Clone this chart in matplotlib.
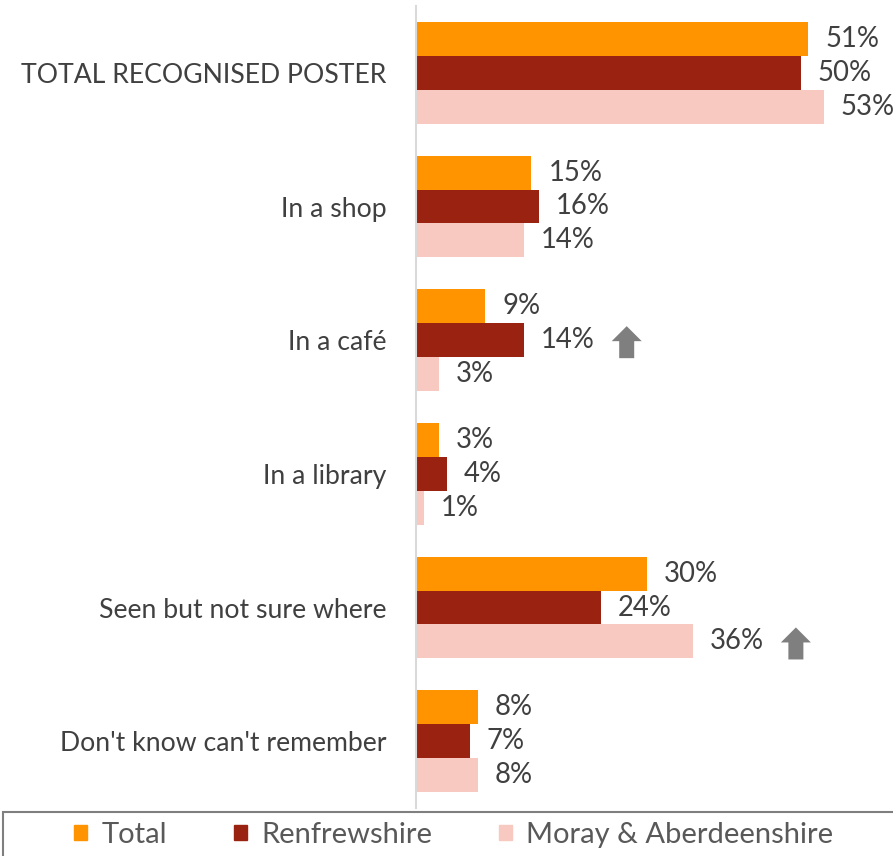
import matplotlib
matplotlib.use('Agg')
import matplotlib.pyplot as plt
from matplotlib.patches import Rectangle, Polygon
import numpy as np

plt.rcParams['font.family'] = ['Lato', 'DejaVu Sans']

CATEGORIES = ['TOTAL RECOGNISED POSTER', 'In a shop', 'In a caf\u00e9', 'In a library',
              'Seen but not sure where', "Don't know can't remember"]
SERIES = ['Total', 'Renfrewshire', 'Moray & Aberdeenshire']
VALUES = {
    'Total': [51, 15, 9, 3, 30, 8],
    'Renfrewshire': [50, 16, 14, 4, 24, 7],
    'Moray & Aberdeenshire': [53, 14, 3, 1, 36, 8],
}
COLORS = ['#FF9300', '#9A2210', '#F8C9C0']
# significant increase markers: (category index, series index)
UP_ARROWS = [(2, 1), (4, 2)]

TEXT = '#404040'
W, H = 893, 856
FIG = plt.figure(figsize=(W / 100, H / 100), dpi=100)
AX = FIG.add_axes([416 / W, 1 - 808 / H, 1 - 416 / W, (808 - 6) / H])

BAR_H = 0.254
Y = np.arange(len(CATEGORIES))
for i, (name, col) in enumerate(zip(SERIES, COLORS)):
    ypos = Y + (i - 1) * BAR_H
    AX.barh(ypos, VALUES[name], height=BAR_H, color=col, edgecolor='none')
    for y, v in zip(ypos, VALUES[name]):
        AX.annotate('%d%%' % v, xy=(v, y), xytext=(17, 0), textcoords='offset pixels',
                    ha='left', va='center', fontsize=19.8, color=TEXT)

XMAX = (W - 416) / 7.69
AX.set_xlim(0, XMAX)
AX.set_ylim(len(CATEGORIES) - 0.5, -0.5)

# up arrows drawn in data coords (x in %, y in category units), sized in pixels
px_x = XMAX / (W - 416)
px_y = 6 / (808 - 6)
for ci, si in UP_ARROWS:
    v = VALUES[SERIES[si]][ci]
    cx = v + 13.4
    cy = ci + (si - 1) * BAR_H + 2 * px_y
    pts = [(-15, -1), (0, -16), (15, -1), (7.5, -1), (7.5, 16), (-7.5, 16), (-7.5, -1)]
    pts = [(cx + dx * px_x, cy + dy * px_y) for dx, dy in pts]
    AX.add_patch(Polygon(pts, closed=True, color='#7F7F7F', lw=0))

AX.set_yticks(Y)
AX.set_yticklabels(CATEGORIES, fontsize=19.2, color=TEXT)
AX.tick_params(axis='y', length=0, pad=21)
AX.set_xticks([])
for side in ['top', 'right', 'bottom']:
    AX.spines[side].set_visible(False)
AX.spines['left'].set_color('#D9D9D9')
AX.spines['left'].set_linewidth(1.5)

# legend box
FIG.patches.append(Rectangle((3 / W, -0.05), 1.0, 0.05 + (856 - 812) / H, transform=FIG.transFigure,
                             fill=False, edgecolor='#7F7F7F', lw=1.5))
HANDLES = [Rectangle((0, 0), 1, 1, color=c) for c in COLORS]
FIG.legend(HANDLES, SERIES, loc='center left', bbox_to_anchor=(48 / W, 1 - 835 / H),
           ncol=3, frameon=False, fontsize=21, handlelength=0.45, handleheight=0.45,
           handletextpad=0.48, columnspacing=2.3, labelcolor='#595959')

FIG.savefig('out.png', dpi=100)
